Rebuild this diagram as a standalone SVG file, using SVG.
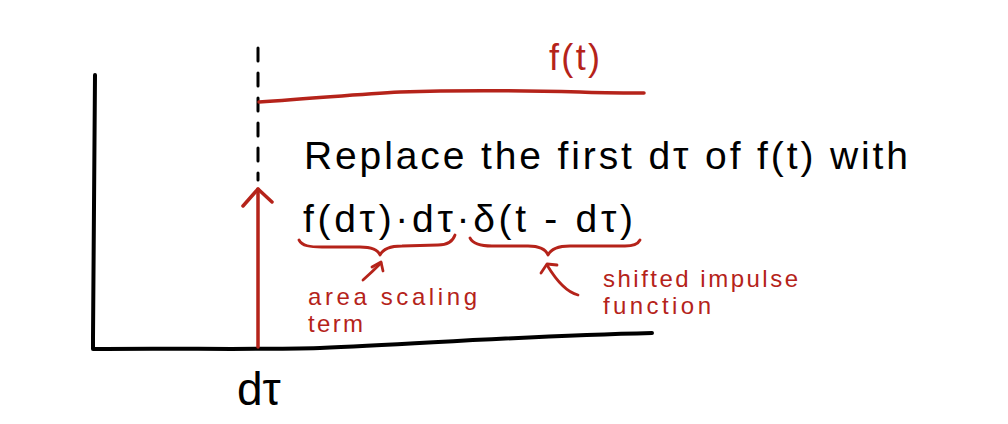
<svg xmlns="http://www.w3.org/2000/svg" width="1008" height="424" viewBox="0 0 1008 424">
<style>
.ax{fill:none;stroke:#000;stroke-width:4;stroke-linecap:round;stroke-linejoin:round}
.rd{fill:none;stroke:#b5231a;stroke-width:3.5;stroke-linecap:round;stroke-linejoin:round}
.br{fill:none;stroke:#b5231a;stroke-width:2.8;stroke-linecap:round;stroke-linejoin:round}
.tb{font-family:"Liberation Sans",Arial,sans-serif;fill:#000}
.tr{font-family:"Liberation Sans",Arial,sans-serif;fill:#b5231a}
</style>
<rect width="1008" height="424" fill="#fff"/>
<g id="axes">
<path class="ax" d="M95,75 C94,150 93,250 93,349 C180,348 250,350 320,348 C420,344 520,336 652,333"/>
</g>
<g id="dashed-marker">
<path d="M258,48 L258,180" fill="none" stroke="#000" stroke-width="3" stroke-dasharray="13 12" stroke-linecap="round"/>
</g>
<g id="impulse-arrow">
<path class="rd" d="M258,347 L258,189"/>
<path class="rd" d="M243,206 L258,189 L272,202"/>
</g>
<g id="f-line">
<path class="rd" d="M259,102 C320,98 360,94 400,92 C460,90 540,91 580,92 C600,93 620,93 644,93"/>
<text class="tr" x="549" y="70" font-size="36" textLength="51">f(t)</text>
</g>
<g id="statement">
<text class="tb" x="304" y="169" font-size="39" textLength="604">Replace the first dτ of f(t) with</text>
<text class="tb" x="303" y="232" font-size="39" textLength="330">f(dτ)·dτ·δ(t - dτ)</text>
</g>
<g id="brace-area">
<path class="br" d="M299,240 C302,246 310,247 322,247 L360,247 C372,247 378,250 380,255 C383,249 390,246 402,246 L438,245 C448,245 453,241 455,235"/>
<path class="br" d="M363,280 Q372,272 381,263"/>
<path class="br" d="M372,267 L381,262 L383,271"/>
<text class="tr" x="308" y="305" font-size="24" textLength="169">area scaling</text>
<text class="tr" x="308" y="332" font-size="24" textLength="55">term</text>
</g>
<g id="brace-impulse">
<path class="br" d="M470,238 C473,244 481,246 492,246 L528,246 C540,246 546,250 548,255 C551,249 558,246 570,246 L625,246 C634,246 638,244 640,240"/>
<path class="br" d="M578,295 C566,292 556,280 547,265"/>
<path class="br" d="M541,273 L547,264 L557,265"/>
<text class="tr" x="603" y="287" font-size="24" textLength="195">shifted impulse</text>
<text class="tr" x="603" y="314" font-size="24" textLength="108">function</text>
</g>
<g id="axis-label">
<text class="tb" x="237" y="405" font-size="46">dτ</text>
</g>
</svg>
